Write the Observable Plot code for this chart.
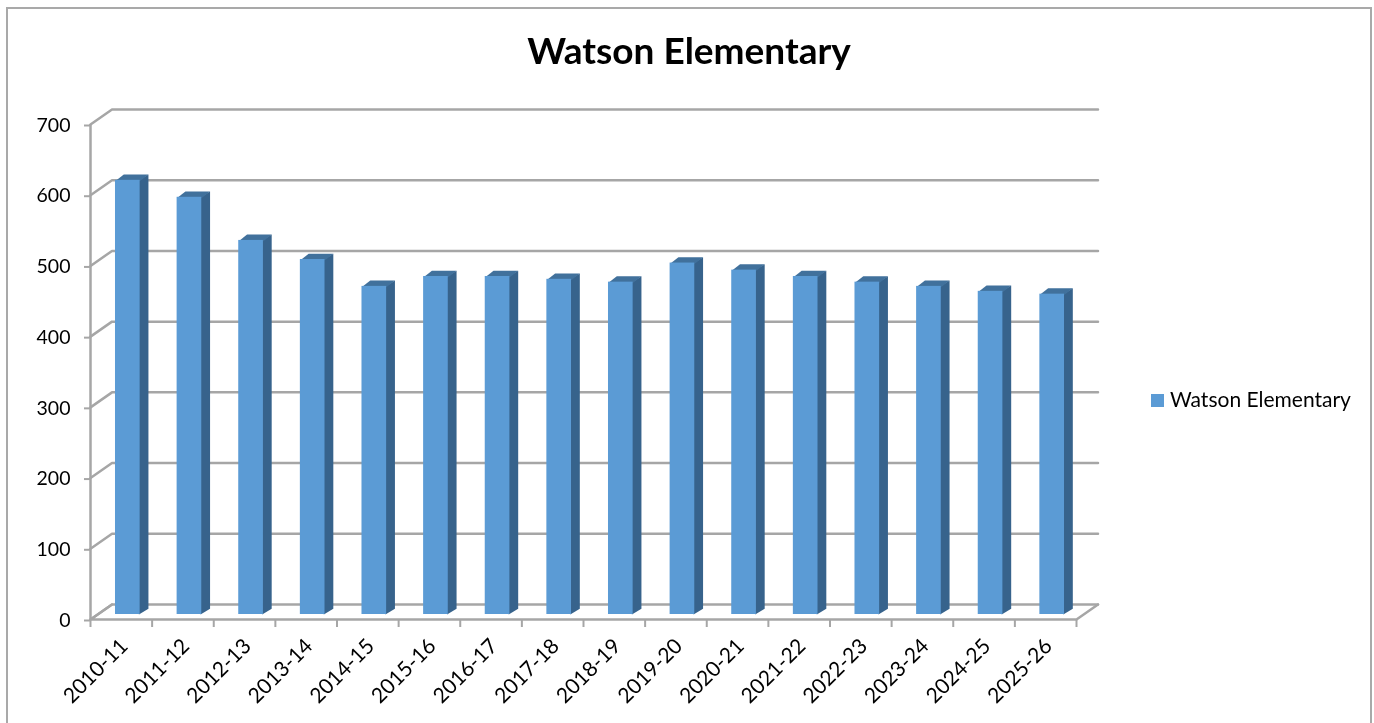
<!DOCTYPE html>
<html>
<head>
<meta charset="utf-8">
<script src="https://cdn.jsdelivr.net/npm/d3@7"></script>
<script src="https://cdn.jsdelivr.net/npm/@observablehq/plot@0.6"></script>
<style>
  html, body { margin: 0; padding: 0; background: #fff; overflow: hidden; }
  #page { position: relative; width: 1374px; height: 723px; font-family: Lato, "Open Sans", sans-serif; color: #000; filter: blur(0.45px); }
  #frame { position: absolute; left: 6px; top: 7px; width: 1366px; height: 730px; border: 2px solid #a9a9a9; box-sizing: border-box; }
  #title { position: absolute; left: 0; width: 1378px; top: 27px; text-align: center; font-size: 37px; font-weight: 700; line-height: 46px; }
  #legend { position: absolute; left: 1151px; top: 387px; font-size: 21px; line-height: 26px; white-space: nowrap; display: flex; align-items: center; }
  #legend i { display: inline-block; width: 13px; height: 13px; background: #5b9bd5; margin-right: 6px; }
  #legend span { position: relative; top: -1px; }
  #chart { position: absolute; left: 0; top: 0; }
</style>
</head>
<body>
<div id="page">
  <div id="frame"></div>
  <div id="chart"></div>
  <div id="title">Watson Elementary</div>
  <div id="legend"><i></i><span>Watson Elementary</span></div>
</div>
<script>
const years = ["2010-11","2011-12","2012-13","2013-14","2014-15","2015-16","2016-17","2017-18","2018-19","2019-20","2020-21","2021-22","2022-23","2023-24","2024-25","2025-26"];
const enrollment = [614,590,529,502,464,478,478,474,470,497,487,478,470,464,457,453];
const yTicks = [0,100,200,300,400,500,600,700];

const gray = "#a6a6a6";
const xUnit = 986 / 16;          // px per category
const yUnit = 495 / 700;         // px per value unit
const wallX = 21.5 / xUnit, wallY = 15 / yUnit;
const barX = 8.3 / xUnit, barY = 5.8 / yUnit;
const seam = 0.02;               // overlap of the faces
const halfBar = 0.2;
const rows = years.map((year, i) => ({year, i, value: enrollment[i], x1: i + 0.5 - halfBar, x2: i + 0.5 + halfBar}));

const gridPaths = yTicks.flatMap(v => [
  {k: v, x: 0, y: v},
  {k: v, x: wallX, y: v + wallY},
  {k: v, x: years.length + wallX, y: v + wallY}
]);
const floorPath = [
  {x: wallX, y: wallY}, {x: 0, y: 0}, {x: years.length, y: 0}, {x: years.length + wallX, y: wallY}
];
const sideFaces = rows.flatMap(r => [
  {k: r.i, x: r.x2 - seam, y: 0},
  {k: r.i, x: r.x2 + barX, y: barY},
  {k: r.i, x: r.x2 + barX, y: r.value + barY},
  {k: r.i, x: r.x2 - seam, y: r.value}
]);
const topFaces = rows.flatMap(r => [
  {k: r.i, x: r.x1, y: r.value - 1},
  {k: r.i, x: r.x1 + barX, y: r.value + barY},
  {k: r.i, x: r.x2 + barX, y: r.value + barY},
  {k: r.i, x: r.x2, y: r.value - 1}
]);
const barShift = {dx: 6.5, dy: -5};

const chart = Plot.plot({
  width: 1374,
  height: 723,
  marginLeft: 90,
  marginRight: 298,
  marginTop: 124,
  marginBottom: 104,
  style: {background: "transparent", fontFamily: "Lato, 'Open Sans', sans-serif", overflow: "visible"},
  x: {domain: [0, years.length]},
  y: {domain: [0, 700]},
  marks: [
    Plot.line(gridPaths, {x: "x", y: "y", z: "k", stroke: gray, strokeWidth: 2.5}),
    Plot.line(floorPath, {x: "x", y: "y", stroke: gray, strokeWidth: 2.5}),
    Plot.ruleX([0], {y1: 0, y2: 700, stroke: gray, strokeWidth: 2.5}),
    Plot.axisY({ticks: yTicks, tickSize: 6, tickPadding: 14, label: null, fontSize: 19.5, dy: 1, stroke: gray, fill: "#000", strokeWidth: 2, strokeOpacity: 1}),
    Plot.axisX({ticks: d3.range(years.length + 1), tickSize: 8, tickFormat: () => "", label: null, stroke: gray, strokeWidth: 2, strokeOpacity: 1}),
    Plot.axisX({ticks: rows.map(r => r.i + 0.5), tickFormat: t => years[t - 0.5], tickRotate: -45, tickSize: 0, tickPadding: 23, dx: 3, label: null, fontSize: 21, fill: "#000"}),
    Plot.line(sideFaces, {x: "x", y: "y", z: "k", fill: "#37638c", stroke: "none", ...barShift}),
    Plot.line(topFaces, {x: "x", y: "y", z: "k", fill: "#41719c", stroke: "none", ...barShift}),
    Plot.rect(rows, {x1: "x1", x2: "x2", y1: 0, y2: "value", fill: "#5b9bd5", ...barShift})
  ]
});
document.getElementById("chart").append(chart);
</script>
</body>
</html>
